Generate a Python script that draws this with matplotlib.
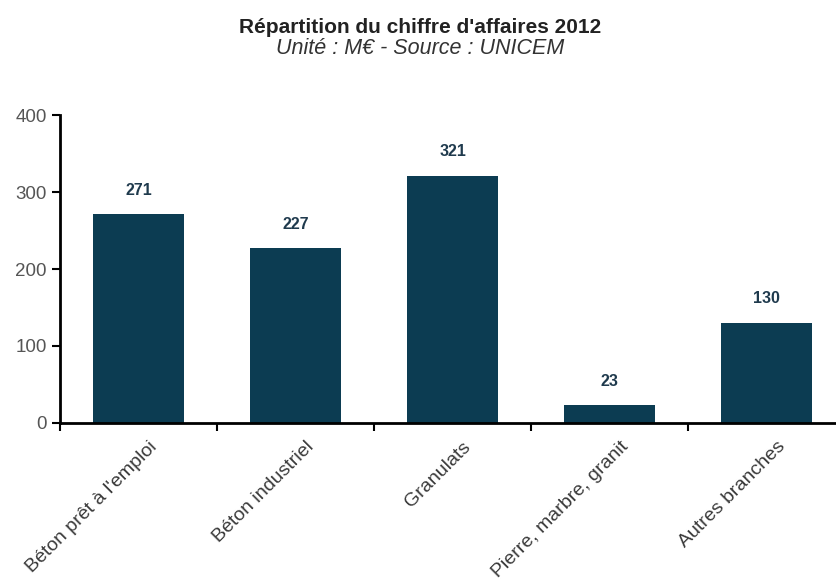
import matplotlib.pyplot as plt
import matplotlib.transforms as mtransforms
import numpy as np

plt.rcParams['font.family'] = ['Liberation Sans', 'DejaVu Sans']

categories = ["Béton prêt à l'emploi", "Béton industriel", "Granulats",
              "Pierre, marbre, granit", "Autres branches"]
values = [271, 227, 321, 23, 130]

bar_color = '#0c3c52'

fig = plt.figure(figsize=(8.37, 5.8), dpi=100)
ax = fig.add_axes([0.0717, 0.2707, 0.938, 0.531])

x = np.arange(len(categories))
ax.bar(x, values, width=0.575, color=bar_color, zorder=2)

for xi, v in zip(x, values):
    ax.annotate(str(v), (xi, v), xytext=(0, 12), textcoords='offset points',
                ha='center', va='bottom', fontsize=11.5, fontweight='bold',
                color='#1f3a4d')

ax.set_xlim(-0.5, len(categories) - 0.5)
ax.set_ylim(0, 400)
ax.set_yticks([0, 100, 200, 300, 400])

# tick marks between categories, labels at bar centres
ax.set_xticks(x)
ax.set_xticks(np.arange(len(categories) + 1) - 0.5, minor=True)
ax.tick_params(axis='x', which='major', length=0, pad=11)
ax.tick_params(axis='x', which='minor', length=6, width=1.5, direction='out')
ax.set_xticklabels(categories, rotation=45, ha='right', rotation_mode='anchor',
                   fontsize=14, color='#3a3a3a')
shift = mtransforms.ScaledTranslation(0.10, 0, fig.dpi_scale_trans)
for lbl in ax.get_xticklabels():
    lbl.set_transform(lbl.get_transform() + shift)
ax.tick_params(axis='y', length=6, width=1.5, direction='out',
               labelsize=13.5, labelcolor='#555555')

for side in ['top', 'right']:
    ax.spines[side].set_visible(False)
for side in ['left', 'bottom']:
    ax.spines[side].set_linewidth(2)
    ax.spines[side].set_color('black')

fig.text(0.502, 0.953, "Répartition du chiffre d'affaires 2012", ha='center',
         va='center', fontsize=15, fontweight='bold', color='#222222')
fig.text(0.502, 0.917, "Unité : M€ - Source : UNICEM", ha='center',
         va='center', fontsize=15.5, style='italic', color='#333333')

fig.savefig('out.png', dpi=100)
